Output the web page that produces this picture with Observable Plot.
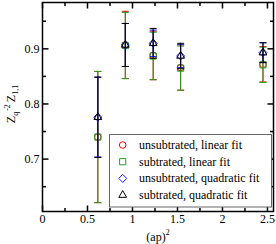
<!DOCTYPE html>
<html><head><meta charset="utf-8">
<script src="https://cdn.jsdelivr.net/npm/d3@7"></script>
<script src="https://cdn.jsdelivr.net/npm/@observablehq/plot@0.6"></script>
<style>
body{margin:0;background:#fff;}
#wrap{position:relative;width:276px;height:244px;}
</style></head><body><div id="wrap"></div>
<script>
// (ap)^2 values
const xs = [0.615, 0.92, 1.23, 1.535, 2.45];
// series values and errors
const unsubLin    = [0.740, 0.907, 0.888, 0.866, 0.872];
const unsubLinErr = [0.119, 0.061, 0.044, 0.041, 0.032];
const subLin      = [0.740, 0.906, 0.887, 0.865, 0.871];
const subLinErr   = [0.119, 0.060, 0.043, 0.040, 0.032];
const unsubQuad    = [0.776, 0.907, 0.910, 0.887, 0.893];
const unsubQuadErr = [0.072, 0.039, 0.024, 0.021, 0.018];
const subQuad      = [0.776, 0.907, 0.910, 0.887, 0.893];
const subQuadErr   = [0.073, 0.039, 0.027, 0.023, 0.018];

const seriesNames = ["unsubtrated, linear fit", "subtrated, linear fit", "unsubtrated, quadratic fit", "subtrated, quadratic fit"];
const seriesColors = ["#ff0000", "#1fa01f", "#2020ff", "#000000"];
const seriesSymbols = ["circle", "square", "diamond2", "triangle"];
const seriesSizes = [3.3, 3.5, 3.6, 2.9];

const xMajor = [0, 0.5, 1, 1.5, 2, 2.5];
const xMinor = [0.25, 0.75, 1.25, 1.75, 2.25];
const yMajor = [0.7, 0.8, 0.9];
const yMinor = [0.65, 0.75, 0.85, 0.95];

const seriesVals = [unsubLin, subLin, unsubQuad, subQuad];
const seriesErrs = [unsubLinErr, subLinErr, unsubQuadErr, subQuadErr];

const font = "Liberation Serif";

// custom line symbols
const lineSym = (dx, dy, both) => ({draw(ctx, size) {
  const l = Math.sqrt(size / Math.PI);
  if (both) { ctx.moveTo(-dx * l, -dy * l); } else { ctx.moveTo(0, 0); }
  ctx.lineTo(dx * l, dy * l);
}});
const capSym = lineSym(1, 0, true);

const marks = [];
seriesVals.forEach((vals, i) => {
  const rows = xs.map((x, j) => ({x, y: vals[j], lo: vals[j] - seriesErrs[i][j], hi: vals[j] + seriesErrs[i][j]}));
  marks.push(Plot.ruleX(rows, {x: "x", y1: "lo", y2: "hi", stroke: seriesColors[i], strokeWidth: 1}));
  marks.push(Plot.dot(rows, {x: "x", y: "lo", symbol: capSym, r: 3.5, stroke: seriesColors[i], fill: "none", strokeWidth: 1}));
  marks.push(Plot.dot(rows, {x: "x", y: "hi", symbol: capSym, r: 3.5, stroke: seriesColors[i], fill: "none", strokeWidth: 1}));
  marks.push(Plot.dot(rows, {x: "x", y: "y", symbol: seriesSymbols[i], r: seriesSizes[i], stroke: seriesColors[i], fill: "none", strokeWidth: 1}));
});

// inward ticks on all four sides
const tickMarks = [
  Plot.dot(xMajor, {x: d => d, frameAnchor: "bottom", symbol: lineSym(0, -1), r: 6, stroke: "black", fill: "none"}),
  Plot.dot(xMinor, {x: d => d, frameAnchor: "bottom", symbol: lineSym(0, -1), r: 3.5, stroke: "black", fill: "none"}),
  Plot.dot(xMajor, {x: d => d, frameAnchor: "top", symbol: lineSym(0, 1), r: 6, stroke: "black", fill: "none"}),
  Plot.dot(xMinor, {x: d => d, frameAnchor: "top", symbol: lineSym(0, 1), r: 3.5, stroke: "black", fill: "none"}),
  Plot.dot(yMajor, {y: d => d, frameAnchor: "left", symbol: lineSym(1, 0), r: 6, stroke: "black", fill: "none"}),
  Plot.dot(yMinor, {y: d => d, frameAnchor: "left", symbol: lineSym(1, 0), r: 3.5, stroke: "black", fill: "none"}),
  Plot.dot(yMajor, {y: d => d, frameAnchor: "right", symbol: lineSym(-1, 0), r: 6, stroke: "black", fill: "none"}),
  Plot.dot(yMinor, {y: d => d, frameAnchor: "right", symbol: lineSym(-1, 0), r: 3.5, stroke: "black", fill: "none"})
];

const svg = Plot.plot({
  width: 276, height: 244,
  marginLeft: 42, marginRight: 3, marginTop: 2, marginBottom: 33,
  style: {fontFamily: font, fontSize: "12px", background: "white", color: "black", overflow: "visible"},
  x: {domain: [0, 2.567], label: null},
  y: {domain: [0.605, 0.984], label: null},
  marks: [
    ...marks,
    ...tickMarks,
    Plot.axisX(xMajor, {tickSize: 0, tickPadding: 3, tickFormat: d => String(d), fontSize: 12, label: null}),
    Plot.axisY(yMajor, {tickSize: 0, tickPadding: 3, tickFormat: d => String(d), fontSize: 12, label: null}),
    Plot.frame({stroke: "black", strokeWidth: 1.5})
  ]
});
document.getElementById("wrap").appendChild(svg);

const s = d3.select(svg);
// x label
const xl = s.append("text").attr("x", 158).attr("y", 241).attr("text-anchor", "middle")
  .attr("font-family", font).attr("font-size", 12).attr("fill", "black");
xl.append("tspan").text("(ap)");
xl.append("tspan").attr("font-size", 8).attr("dy", -6).text("2");

// y label
const yl = s.append("text").attr("transform", "translate(15,104) rotate(-90)").attr("text-anchor", "middle")
  .attr("font-family", font).attr("font-size", 12).attr("fill", "black");
yl.append("tspan").text("Z");
yl.append("tspan").attr("font-size", 8).attr("dy", 3).text("q");
yl.append("tspan").attr("font-size", 8).attr("dy", -8).attr("dx", 1).text("-2");
yl.append("tspan").attr("dy", 5).attr("dx", 2).text("Z");
yl.append("tspan").attr("font-size", 8).attr("dy", 3).text("1,1");

// legend
const lg = s.append("g").attr("text-anchor", "start");
lg.append("rect").attr("x", 109.5).attr("y", 134.5).attr("width", 162).attr("height", 72.5)
  .attr("fill", "white").attr("stroke", "#666").attr("stroke-width", 1);
const symMap = {circle: d3.symbolCircle, square: d3.symbolSquare, diamond2: d3.symbolDiamond2, triangle: d3.symbolTriangle};
seriesNames.forEach((name, i) => {
  const cy = 145 + i * 16.7;
  lg.append("path").attr("d", d3.symbol(symMap[seriesSymbols[i]], seriesSizes[i] * seriesSizes[i] * Math.PI)())
    .attr("transform", `translate(122.7,${cy})`).attr("fill", "none").attr("stroke", seriesColors[i]);
  lg.append("text").attr("x", 139).attr("y", cy + 4).attr("text-anchor", "start").attr("font-family", font).attr("font-size", 12)
    .attr("fill", "black").text(name);
});
</script>
</body></html>
